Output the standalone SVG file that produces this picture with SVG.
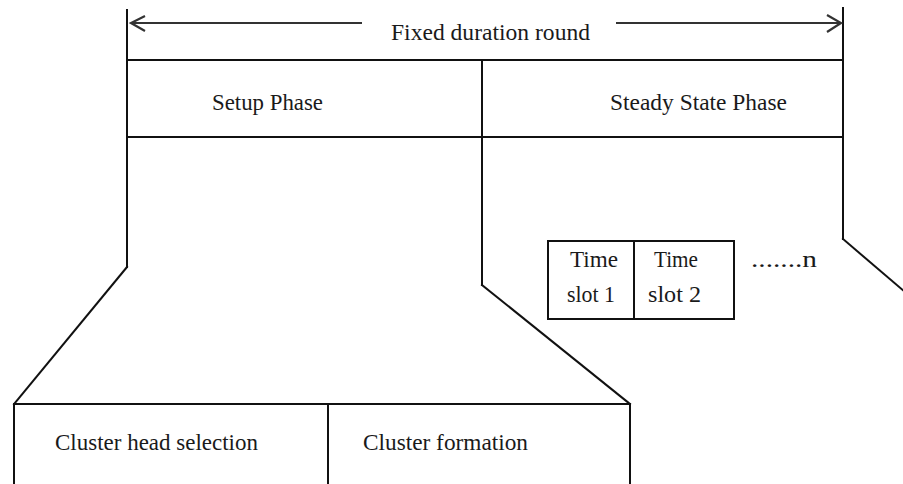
<svg xmlns="http://www.w3.org/2000/svg" width="903" height="484" viewBox="0 0 903 484">
  <style>
    .ln { stroke: #111; stroke-width: 2; fill: none; stroke-linecap: square; }
    .arr { stroke: #333; stroke-width: 2.2; fill: none; }
    text { font-family: 'Liberation Serif', 'Times New Roman', serif; font-size: 23px; fill: #1a1a1a; }
  </style>
  <rect width="903" height="484" fill="#ffffff"/>

  <!-- round span with dimension arrows -->
  <g id="round">
    <line class="ln" x1="127" y1="10" x2="127" y2="267"/>
    <line class="ln" x1="843" y1="8" x2="843" y2="239"/>
    <polyline class="arr" points="145,16 131,23 145,31"/>
    <line class="arr" x1="131" y1="23" x2="362" y2="23"/>
    <line class="arr" x1="616" y1="23" x2="841" y2="23"/>
    <polyline class="arr" points="827,15 841,23 827,32"/>
    <text x="391" y="40" textLength="199" lengthAdjust="spacingAndGlyphs">Fixed duration round</text>
    <line class="ln" x1="127" y1="60" x2="843" y2="60"/>
    <line class="ln" x1="127" y1="137" x2="843" y2="137"/>
  </g>

  <!-- setup phase cell -->
  <g id="setup-phase">
    <text x="212" y="110" textLength="111" lengthAdjust="spacingAndGlyphs">Setup Phase</text>
  </g>

  <!-- steady state phase cell -->
  <g id="steady-phase">
    <line class="ln" x1="482" y1="60" x2="482" y2="285"/>
    <text x="610" y="110" textLength="177" lengthAdjust="spacingAndGlyphs">Steady State Phase</text>
  </g>

  <!-- time slots -->
  <g id="time-slots">
    <rect class="ln" x="548" y="241" width="186" height="78"/>
    <line class="ln" x1="634" y1="241" x2="634" y2="319"/>
    <text x="570" y="267" textLength="48" lengthAdjust="spacingAndGlyphs">Time</text>
    <text x="567" y="302" textLength="48" lengthAdjust="spacingAndGlyphs">slot 1</text>
    <text x="654" y="267" textLength="44" lengthAdjust="spacingAndGlyphs">Time</text>
    <text x="648" y="302" textLength="53" lengthAdjust="spacingAndGlyphs">slot 2</text>
    <text x="751" y="267" textLength="66" lengthAdjust="spacingAndGlyphs">.......n</text>
  </g>

  <!-- setup phase breakdown -->
  <g id="setup-detail">
    <polyline class="ln" points="14,490 14,404 630,404 630,490"/>
    <line class="ln" x1="328" y1="404" x2="328" y2="490"/>
    <text x="55" y="450" textLength="203" lengthAdjust="spacingAndGlyphs">Cluster head selection</text>
    <text x="363" y="450" textLength="165" lengthAdjust="spacingAndGlyphs">Cluster formation</text>
  </g>

  <!-- expansion connectors -->
  <g id="connectors">
    <line class="ln" x1="127" y1="267" x2="14" y2="404"/>
    <line class="ln" x1="482" y1="285" x2="630" y2="404"/>
    <line class="ln" x1="843" y1="239" x2="905" y2="292"/>
  </g>
</svg>
